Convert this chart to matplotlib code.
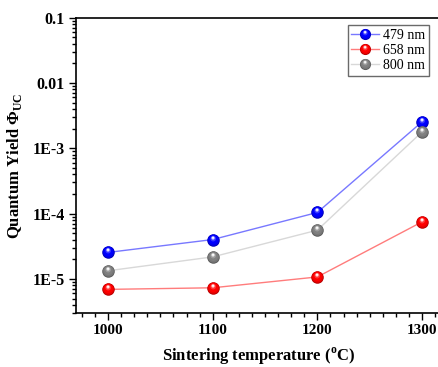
import numpy as np
import matplotlib
matplotlib.use("Agg")
import matplotlib.pyplot as plt
from matplotlib.path import Path
from matplotlib.lines import Line2D
from matplotlib.markers import MarkerStyle
from matplotlib.ticker import MultipleLocator, LogLocator, NullFormatter, FixedLocator
from matplotlib.colors import to_rgb

# ---- data -------------------------------------------------------------
temperatures = [1000, 1100, 1200, 1300]
qy_479 = [2.54e-5, 4.0e-5, 1.04e-4, 2.54e-3]
qy_658 = [6.9e-6, 7.3e-6, 1.07e-5, 7.46e-5]
qy_800 = [1.33e-5, 2.17e-5, 5.57e-5, 1.78e-3]
series_labels = ["479 nm", "658 nm", "800 nm"]
series_colors = ["#0000ff", "#ff0000", "#808080"]
line_colors = ["#7878ff", "#ff7c7c", "#d8d8d8"]
xtick_values = [1000, 1100, 1200, 1300]
ytick_values = [1e-5, 1e-4, 1e-3, 1e-2, 1e-1]
ytick_labels = ["1E-5", "1E-4", "1E-3", "0.01", "0.1"]

plt.rcParams["font.family"] = ["Liberation Serif", "DejaVu Serif"]
plt.rcParams["mathtext.fontset"] = "custom"
plt.rcParams["mathtext.rm"] = "Liberation Serif"


def disc(cx, cy, r):
    """Circle inside a fixed [-1, 1] frame so offsets survive marker scaling."""
    frame = Path([(-1.0, -1.0), (1.0, 1.0)], [Path.MOVETO, Path.MOVETO])
    return Path.make_compound_path(frame, Path.circle((cx, cy), r))


def shade(color, k):
    c = np.array(to_rgb(color))
    if k < 0:
        return tuple(c * (1 + k))
    return tuple(c + (1 - c) * k)


# layers of a shaded ball: (cx, cy, radius, shade amount)
BALL = [
    (0.0, 0.0, 1.0, -0.30),
    (0.0, 0.06, 0.90, -0.08),
    (-0.02, 0.15, 0.72, 0.0),
    (-0.05, 0.30, 0.45, 0.22),
    (-0.07, 0.40, 0.28, 0.70),
    (-0.07, 0.43, 0.16, 1.0),
]


def ball_layers(x, y, color, ms, **kw):
    arts = []
    for cx, cy, r, k in BALL:
        arts.append(Line2D(x, y, ls="none", marker=MarkerStyle(disc(cx, cy, r)),
                           ms=ms, mew=0, color=shade(color, k), **kw))
    return arts


fig = plt.figure(figsize=(4.38, 3.67), dpi=100)
W, H = 438.0, 367.0
ax = fig.add_axes([76 / W, 54 / H, (458 - 76) / W, (313 - 17.7) / H])

series = [qy_479, qy_658, qy_800]
handles = []
for vals, col, lcol, lab in zip(series, series_colors, line_colors, series_labels):
    ax.plot(temperatures, vals, color=lcol, lw=1.0, zorder=2)
    for art in ball_layers(temperatures, vals, col, 9.0, zorder=3):
        ax.add_line(art)
    h_line = Line2D([], [], color=lcol, lw=1.0)
    handles.append(tuple([h_line] + ball_layers([], [], col, 8.0)))

ax.set_yscale("log")
ax.set_ylim(3.0e-6, 0.1)
ax.set_xlim(969.4, 1334.4)

ax.xaxis.set_major_locator(FixedLocator(xtick_values))
ax.xaxis.set_minor_locator(MultipleLocator(12.5))
ax.set_yticks(ytick_values, labels=ytick_labels)
ax.yaxis.set_minor_locator(LogLocator(base=10, subs=np.arange(2, 10)))
ax.yaxis.set_minor_formatter(NullFormatter())

for s in ["left", "bottom", "top"]:
    ax.spines[s].set_linewidth(1.2)
ax.spines["right"].set_visible(False)
ax.tick_params(which="both", direction="out", top=False, right=False, width=1.0)
ax.tick_params(which="major", length=5, pad=3)
ax.tick_params(axis="x", which="major", labelsize=11)
ax.tick_params(axis="y", which="major", labelsize=11.5)
ax.tick_params(which="minor", length=3)
for lbl in ax.get_xticklabels() + ax.get_yticklabels():
    lbl.set_fontweight("bold")

ax.set_xlabel("Sintering temperature ($^{\\mathregular{o}}$C)", fontsize=12,
              fontweight="bold")
ax.xaxis.set_label_coords((259 - 76) / 382, -0.112)
ax.set_ylabel("Quantum Yield \u03a6$_{\\mathregular{UC}}$", fontsize=12,
              fontweight="bold", labelpad=6)

leg = ax.legend(handles, series_labels, loc="upper right",
                bbox_to_anchor=(429 / W, 1 - 25.5 / H), bbox_transform=fig.transFigure,
                borderaxespad=0, fancybox=False, framealpha=1, edgecolor="#6a6a6a",
                prop={"family": "Liberation Serif", "size": 10},
                handlelength=2.0, handletextpad=0.3, borderpad=0.25, labelspacing=0.15)
leg.get_frame().set_linewidth(1.0)

fig.savefig("out.png", dpi=100)
